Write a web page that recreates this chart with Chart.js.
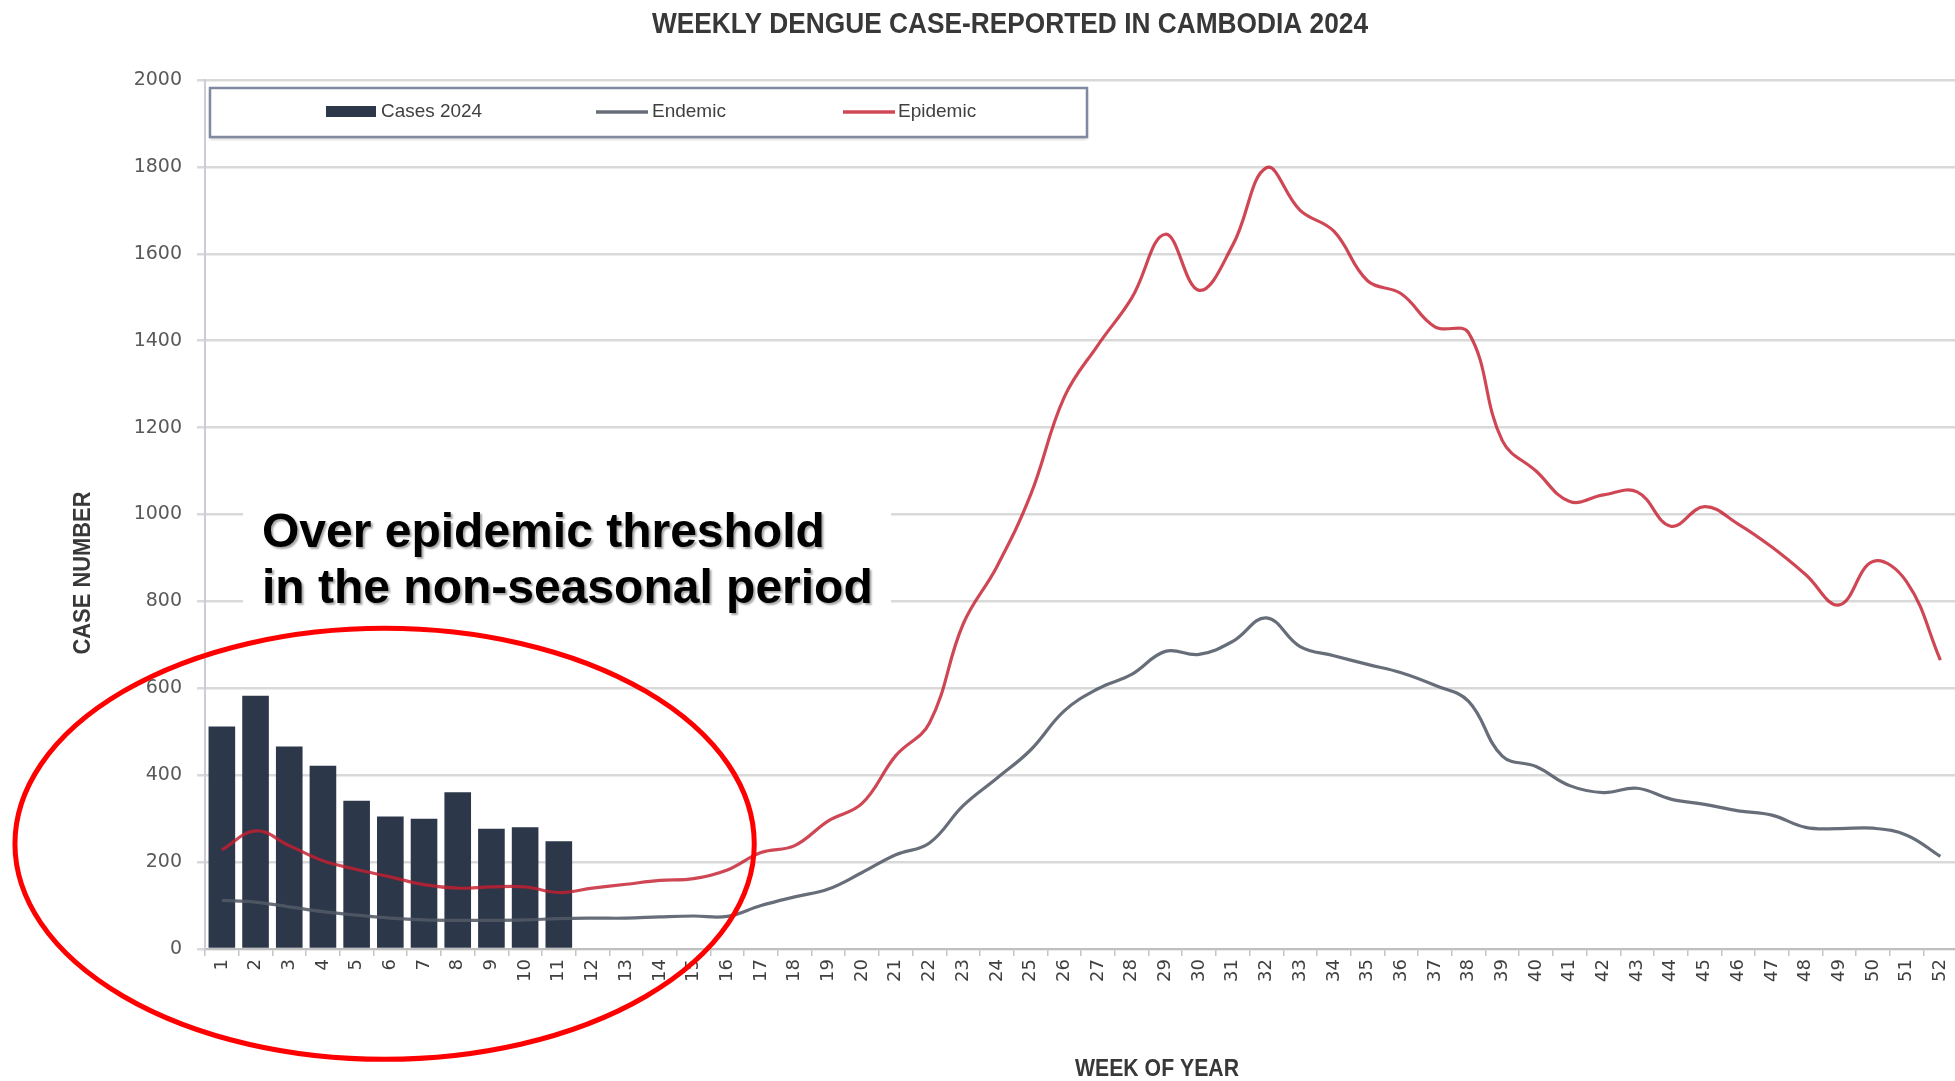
<!DOCTYPE html>
<html>
<head>
<meta charset="utf-8">
<title>Weekly dengue case-reported in Cambodia 2024</title>
<script src="https://cdn.jsdelivr.net/npm/chart.js@4.4.1/dist/chart.umd.min.js"></script>
<style>
  html, body { margin: 0; padding: 0; background: #fff; overflow: hidden; }
  #wrap { width: 1965px; height: 1081px; }
</style>
</head>
<body>
<div id="wrap"><canvas id="dengueChart" width="1965" height="1081"></canvas></div>
<script>
// Data
const weeks = ['1','2','3','4','5','6','7','8','9','10','11','12','13','14','15','16','17','18','19','20',
  '21','22','23','24','25','26','27','28','29','30','31','32','33','34','35','36','37','38','39','40',
  '41','42','43','44','45','46','47','48','49','50','51','52'];

const cases2024 = [512, 583, 466, 422, 341, 305, 300, 361, 277, 280, 248];

const endemic = [112, 108, 97, 86, 78, 71, 67, 66, 66, 67, 70, 71, 71, 74, 76, 75, 100, 120, 138, 176,
  217, 244, 330, 393, 458, 548, 599, 632, 685, 678, 708, 762, 696, 675, 655, 636, 607, 570, 444, 420,
  376, 360, 370, 345, 333, 318, 308, 280, 277, 278, 262, 213];

const epidemic = [228, 272, 238, 203, 183, 166, 148, 140, 143, 143, 130, 140, 149, 158, 162, 182, 222, 238, 295, 335,
  445, 520, 748, 880, 1045, 1270, 1390, 1498, 1645, 1516, 1620, 1798, 1700, 1652, 1538, 1508, 1432, 1418, 1170, 1100,
  1030, 1045, 1052, 973, 1018, 978, 925, 862, 792, 892, 845, 665];

const yTicks = [0, 200, 400, 600, 800, 1000, 1200, 1400, 1600, 1800, 2000];

const chartTitle = 'WEEKLY DENGUE CASE-REPORTED IN CAMBODIA 2024';
const yTitle = 'CASE NUMBER';
const xTitle = 'WEEK OF YEAR';
const noteLines = ['Over epidemic threshold', 'in the non-seasonal period'];

const colBars = '#2c374a';
const colEndemic = 'rgba(82, 90, 102, 0.88)';
const colEpidemic = 'rgba(196, 30, 48, 0.82)';

// titles, legend box, note and the red ring
const overlay = {
  id: 'overlay',
  afterDraw(chart) {
    const ctx = chart.ctx;
    const xs = chart.scales.x, ys = chart.scales.y;
    ctx.save();

    // chart title
    ctx.fillStyle = '#383838';
    ctx.textAlign = 'center';
    ctx.textBaseline = 'alphabetic';
    ctx.font = 'bold 29px "Liberation Sans"';
    ctx.fillText(chartTitle, 1010, 33, 716);

    // axis titles
    ctx.font = 'bold 24px "Liberation Sans"';
    ctx.fillText(xTitle, 1157, 1076, 164);
    ctx.save();
    ctx.translate(83, 573);
    ctx.rotate(-Math.PI / 2);
    ctx.textBaseline = 'middle';
    ctx.fillText(yTitle, 0, 0, 163);
    ctx.restore();

    // legend
    ctx.save();
    ctx.shadowColor = 'rgba(0,0,0,0.25)';
    ctx.shadowOffsetY = 2;
    ctx.shadowBlur = 3;
    ctx.fillStyle = '#fff';
    ctx.fillRect(210, 88, 877, 49);
    ctx.restore();
    ctx.strokeStyle = '#7f8aa0';
    ctx.lineWidth = 2.5;
    ctx.strokeRect(210, 88, 877, 49);

    const swX = [326, 596, 843], txX = [381, 652, 898], txW = [101, 78, 85];
    const ly = 112;
    ctx.font = '19px "Liberation Sans"';
    ctx.textAlign = 'left';
    ctx.textBaseline = 'middle';
    chart.data.datasets.forEach((ds, i) => {
      if (ds.type === 'line') {
        ctx.strokeStyle = ds.borderColor;
        ctx.lineWidth = 3.5;
        ctx.beginPath();
        ctx.moveTo(swX[i], ly);
        ctx.lineTo(swX[i] + 52, ly);
        ctx.stroke();
      } else {
        ctx.fillStyle = ds.backgroundColor;
        ctx.fillRect(swX[i], ly - 6, 50, 11);
      }
      ctx.fillStyle = '#404040';
      ctx.fillText(ds.label, txX[i], ly, txW[i]);
    });

    // note with white box
    ctx.fillStyle = '#fff';
    ctx.fillRect(243, 493, 648, 130);
    ctx.save();
    ctx.shadowColor = 'rgba(0,0,0,0.35)';
    ctx.shadowOffsetX = 2;
    ctx.shadowOffsetY = 2;
    ctx.shadowBlur = 2;
    ctx.fillStyle = '#000';
    ctx.font = 'bold 48px "Liberation Sans"';
    ctx.textBaseline = 'alphabetic';
    ctx.fillText(noteLines[0], 262, 547);
    ctx.fillText(noteLines[1], 262, 603);
    ctx.restore();

    // red ring round the first weeks
    const cx = xs.getPixelForValue(4.83);
    const rx = xs.getPixelForValue(4.83 + 10.97) - cx;
    const cy = ys.getPixelForValue(242);
    const ry = ys.getPixelForValue(0) - ys.getPixelForValue(496);
    ctx.strokeStyle = '#ff0000';
    ctx.lineWidth = 5;
    ctx.beginPath();
    ctx.ellipse(cx, cy, rx, ry, 0, 0, Math.PI * 2);
    ctx.stroke();

    ctx.restore();
  }
};

new Chart(document.getElementById('dengueChart').getContext('2d'), {
  type: 'bar',
  data: {
    labels: weeks,
    datasets: [
      { type: 'bar', label: 'Cases 2024', data: cases2024, backgroundColor: colBars,
        barPercentage: 0.79, categoryPercentage: 1, order: 3 },
      { type: 'line', label: 'Endemic', data: endemic, borderColor: colEndemic, borderWidth: 3.2,
        tension: 0.4, pointRadius: 0, fill: false, order: 2 },
      { type: 'line', label: 'Epidemic', data: epidemic, borderColor: colEpidemic, borderWidth: 3.2,
        tension: 0.4, pointRadius: 0, fill: false, order: 1 }
    ]
  },
  options: {
    responsive: false,
    animation: false,
    layout: { padding: { top: 80, right: 3, bottom: 0, left: 0 } },
    plugins: { legend: { display: false }, title: { display: false }, tooltip: { enabled: false } },
    scales: {
      x: {
        offset: true,
        grid: { drawOnChartArea: false, drawTicks: true, tickLength: 7, color: '#c4c4c4', lineWidth: 1.5 },
        border: { display: true, color: '#bfbfbf', width: 2 },
        ticks: { autoSkip: false, minRotation: 90, maxRotation: 90, padding: 3,
          font: { family: 'DejaVu Sans', size: 18 }, color: '#404040' },
        afterFit: s => { s.height = 132; }
      },
      y: {
        min: 0, max: 2000,
        afterBuildTicks: s => { s.ticks = yTicks.map(v => ({ value: v })); },
        grid: { color: '#d9d9d9', lineWidth: 2.5, tickLength: 8 },
        border: { display: true, color: '#c9ced6', width: 2 },
        ticks: { padding: 15, font: { family: 'DejaVu Sans', size: 19 }, color: '#595959',
          callback: v => String(v) },
        afterFit: s => { s.width = 205; }
      }
    }
  },
  plugins: [overlay]
});
</script>
</body>
</html>
